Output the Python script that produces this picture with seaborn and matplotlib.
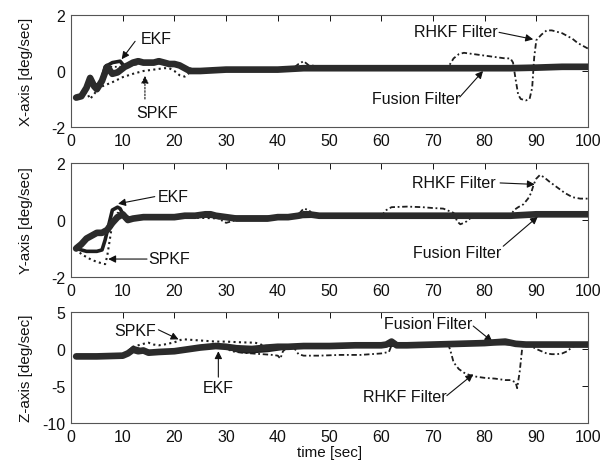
import matplotlib
matplotlib.use("Agg")
import matplotlib.pyplot as plt
import seaborn as sns
import pandas as pd

# ---------------- data ----------------
# X-axis panel
fus_x_t = [1, 2, 3, 3.7, 4.5, 5, 6, 7, 8, 9, 10.4, 11, 12, 13, 14, 15, 16, 17, 18, 19, 20, 21, 22, 23, 25,
           30, 35, 40, 45, 50, 55, 60, 65, 70, 75, 80, 85, 90, 95, 100]
fus_x_v = [-0.95, -0.9, -0.6, -0.25, -0.55, -0.65, -0.35, 0.15, -0.1, -0.05, 0.15, 0.2, 0.3, 0.35, 0.3, 0.3,
           0.3, 0.35, 0.3, 0.25, 0.25, 0.2, 0.1, 0.0, 0.0, 0.05, 0.05, 0.05, 0.1, 0.1, 0.1, 0.1, 0.1, 0.1,
           0.1, 0.1, 0.1, 0.12, 0.15, 0.15]
ekf_x_t = [1, 2, 3, 3.7, 4.5, 5, 6, 6.6, 8, 9.5, 10.4, 12, 14, 16, 18, 20, 21, 22, 23, 25, 30, 35, 40, 45,
           50, 60, 70, 80, 90, 100]
ekf_x_v = [-0.95, -0.85, -0.55, -0.2, -0.5, -0.6, -0.3, 0.15, 0.3, 0.35, 0.15, 0.3, 0.3, 0.3, 0.3, 0.25,
           0.2, 0.1, 0.0, 0.0, 0.05, 0.05, 0.05, 0.1, 0.1, 0.1, 0.1, 0.1, 0.12, 0.15]
spkf_x_t = [1, 2, 3, 3.7, 5, 6, 8, 10, 12, 14, 16, 18, 19, 20, 21, 22, 23, 25, 30, 40, 50, 60, 70, 80, 90, 100]
spkf_x_v = [-1.0, -0.9, -0.75, -1.0, -0.7, -0.55, -0.4, -0.22, -0.1, 0.0, 0.05, 0.1, 0.1, 0.0, -0.15,
            -0.2, -0.05, 0.0, 0.05, 0.05, 0.1, 0.1, 0.1, 0.1, 0.12, 0.15]
rhkf_x_t = [1, 2, 3, 3.7, 4.5, 5, 6, 7, 10, 15, 20, 25, 30, 35, 40, 43, 44, 45, 46, 50, 55, 60, 65, 70, 73,
            74, 75, 76, 78, 80, 82, 84, 85, 85.5, 86, 86.5, 87, 88, 88.7, 89.2, 89.6, 90, 91, 92, 93, 94,
            95, 96, 97, 98, 99, 100]
rhkf_x_v = [-0.95, -0.9, -0.6, -0.25, -0.55, -0.65, -0.35, 0.15, 0.15, 0.3, 0.25, 0.0, 0.05, 0.05, 0.05,
            0.1, 0.25, 0.35, 0.2, 0.15, 0.15, 0.1, 0.1, 0.1, 0.15, 0.45, 0.6, 0.65, 0.6, 0.55, 0.5, 0.45,
            0.45, 0.3, -0.3, -0.85, -1.0, -1.05, -1.0, -0.6, 0.5, 1.1, 1.3, 1.45, 1.45, 1.4, 1.35, 1.25,
            1.15, 1.0, 0.9, 0.8]

# Y-axis panel
fus_y_t = [1, 2, 3, 4, 5, 6, 7, 8, 9, 10, 11, 12, 14, 16, 18, 20, 22, 24, 26, 27, 28, 30, 32, 35, 38, 40,
           42, 44, 45, 46, 48, 50, 55, 60, 65, 70, 75, 80, 85, 90, 95, 100]
fus_y_v = [-1.0, -0.85, -0.65, -0.55, -0.45, -0.45, -0.35, -0.1, 0.1, 0.2, 0.0, 0.05, 0.1, 0.1, 0.1, 0.1,
           0.15, 0.15, 0.2, 0.2, 0.15, 0.1, 0.05, 0.05, 0.05, 0.1, 0.1, 0.15, 0.2, 0.2, 0.15, 0.15, 0.15,
           0.15, 0.15, 0.15, 0.15, 0.15, 0.15, 0.2, 0.2, 0.2]
ekf_y_t = [1, 2, 3, 4, 5, 6, 6.6, 7, 8, 9, 9.5, 10.5, 12, 16, 20, 25, 30, 40, 50, 60, 70, 80, 90, 100]
ekf_y_v = [-1.0, -1.05, -1.1, -1.1, -1.1, -1.05, -0.7, -0.4, 0.35, 0.45, 0.4, 0.05, 0.05, 0.1, 0.1,
           0.15, 0.1, 0.1, 0.15, 0.15, 0.15, 0.15, 0.2, 0.2]
spkf_y_t = [1, 2, 2.7, 4, 5.2, 6.6, 7, 7.5, 8, 9, 10, 11, 12, 16, 20, 30, 40, 50, 60, 70, 80, 90, 100]
spkf_y_v = [-1.0, -1.2, -1.27, -1.4, -1.48, -1.55, -1.27, -0.7, -0.1, 0.25, 0.2, 0.05, 0.05, 0.1, 0.1,
            0.05, 0.1, 0.15, 0.15, 0.15, 0.15, 0.2, 0.2]
rhkf_y_t = [1, 2, 3, 4, 5, 6, 7, 8, 9, 10, 12, 16, 20, 24, 28, 30, 32, 35, 38, 40, 42, 44, 45, 46, 47, 50,
            55, 59, 60, 60.5, 61, 62, 65, 68, 70, 72, 74, 74.7, 75.3, 76, 76.5, 77.5, 80, 85, 85.7, 86.5,
            87.5, 88.4, 89, 89.5, 90, 90.7, 91.5, 92.5, 94, 95.5, 97, 98.5, 100]
rhkf_y_v = [-1.0, -0.85, -0.65, -0.55, -0.45, -0.45, -0.35, -0.1, 0.1, 0.2, 0.05, 0.1, 0.1, 0.15, 0.1,
            -0.1, 0.0, 0.05, 0.0, 0.05, 0.1, 0.2, 0.4, 0.35, 0.15, 0.15, 0.15, 0.1, 0.05, 0.25, 0.35,
            0.45, 0.47, 0.45, 0.42, 0.4, 0.25, -0.05, -0.15, -0.1, -0.05, 0.1, 0.15, 0.15, 0.35, 0.45,
            0.55, 0.75, 0.95, 1.25, 1.45, 1.58, 1.5, 1.35, 1.15, 0.95, 0.8, 0.75, 0.75]

# Z-axis panel
fus_z_t = [1, 5, 10, 11, 12, 13, 14, 15, 17, 20, 22, 25, 28, 30, 32, 35, 38, 40, 42, 45, 50, 55, 60, 61,
           62, 63, 65, 70, 75, 80, 84, 86, 88, 90, 95, 100]
fus_z_v = [-1.0, -1.0, -0.9, -0.6, -0.1, -0.3, -0.2, -0.5, -0.4, -0.3, -0.1, 0.2, 0.4, 0.3, 0.1, 0.0, 0.2,
           0.3, 0.3, 0.4, 0.4, 0.5, 0.5, 0.6, 1.0, 0.5, 0.5, 0.6, 0.7, 0.8, 1.0, 0.7, 0.6, 0.6, 0.6, 0.6]
ekf_z_t = [1, 5, 10, 11, 12, 13, 14, 16, 18, 20, 22, 25, 28, 30, 32, 34, 36, 38, 40, 42, 45, 50, 60, 70,
           80, 90, 100]
ekf_z_v = [-1.0, -1.0, -0.9, -0.5, 0.2, 0.0, -0.3, -0.4, -0.3, -0.2, 0.0, 0.2, 0.4, 0.2, -0.2, -0.4,
           -0.3, -0.2, 0.0, 0.2, 0.3, 0.4, 0.5, 0.6, 0.8, 0.6, 0.6]
spkf_z_t = [1, 5, 10, 11, 12, 13, 14, 15, 16, 17, 18, 20, 21.5, 22, 24, 26, 28, 30, 33, 35.6, 36.5, 37,
            38, 40, 45, 50, 60, 70, 80, 90, 100]
spkf_z_v = [-1.0, -1.0, -0.9, -0.4, 0.3, 0.5, 0.7, 0.85, 0.6, 0.5, 0.6, 0.9, 1.3, 1.3, 1.2, 1.1, 1.0, 1.0,
            0.9, 0.85, 0.7, 0.5, 0.4, 0.3, 0.4, 0.4, 0.5, 0.6, 0.8, 0.6, 0.6]
rhkf_z_t = [1, 5, 10, 12, 14, 16, 18, 20, 25, 28, 30, 31, 33, 35, 37, 39, 40, 40.5, 41, 42, 43, 43.5, 44,
            45, 48, 52, 56, 60, 61.5, 62, 65, 70, 73, 73.5, 74, 75, 76, 77, 78, 80, 82, 84, 85, 86, 86.3,
            86.8, 87.3, 88, 89, 90, 91, 92, 93, 94, 95, 96, 97, 98, 100]
rhkf_z_v = [-1.0, -1.0, -0.9, -0.2, -0.3, -0.4, -0.3, -0.2, 0.2, 0.4, 0.2, -0.3, -0.5, -0.6, -0.7, -0.8,
            -0.9, -1.3, -0.3, 0.3, 0.3, -0.2, -0.7, -0.9, -0.9, -0.8, -0.8, -0.6, -0.4, 0.5, 0.5, 0.6,
            0.6, -0.5, -1.8, -2.7, -3.2, -3.5, -3.7, -3.9, -4.0, -4.2, -4.2, -4.5, -5.3, -3.0, 0.3, 0.6,
            0.4, 0.0, -0.3, -0.6, -0.7, -0.7, -0.6, -0.3, 0.3, 0.5, 0.6]

ylabels = ["X-axis [deg/sec]", "Y-axis [deg/sec]", "Z-axis [deg/sec]"]
xlabel = "time [sec]"
xticks = [0, 10, 20, 30, 40, 50, 60, 70, 80, 90, 100]
yticks_list = [[-2, 0, 2], [-2, 0, 2], [-10, -5, 0, 5]]
ylims = [(-2, 2), (-2, 2), (-10, 5)]

# ---------------- style ----------------
sns.set_theme(style="white")
plt.rcParams["font.family"] = ["Liberation Sans", "DejaVu Sans"]
plt.rcParams["axes.unicode_minus"] = False

fig = plt.figure(figsize=(6.11, 4.64), dpi=100)
left, width = 71 / 611, 517 / 611
boxes = [(128, 112), (278, 114), (424, 111)]
axes = [fig.add_axes([left, 1 - b / 464, width, h / 464]) for b, h in boxes]

panels = [
    (fus_x_t, fus_x_v, ekf_x_t, ekf_x_v, spkf_x_t, spkf_x_v, rhkf_x_t, rhkf_x_v),
    (fus_y_t, fus_y_v, ekf_y_t, ekf_y_v, spkf_y_t, spkf_y_v, rhkf_y_t, rhkf_y_v),
    (fus_z_t, fus_z_v, ekf_z_t, ekf_z_v, spkf_z_t, spkf_z_v, rhkf_z_t, rhkf_z_v),
]

ink = "#1e1e1e"
for i, (ax, p) in enumerate(zip(axes, panels)):
    ft, fv, et, ev, st, sv, rt, rv = p
    sns.lineplot(x=rt, y=rv, ax=ax, color=ink, lw=1.3, linestyle=(0, (3, 1.5, 1, 1.5)),
                 estimator=None, sort=False, zorder=3)
    sns.lineplot(x=st, y=sv, ax=ax, color=ink, lw=1.5, linestyle=(0, (1, 1.6)),
                 estimator=None, sort=False, zorder=3)
    sns.lineplot(x=et, y=ev, ax=ax, color=ink, lw=2.6, estimator=None, sort=False, zorder=4)
    sns.lineplot(x=ft, y=fv, ax=ax, color="#2b2b2b", lw=4.8, estimator=None, sort=False, zorder=5)

    ax.set_xlim(0, 100)
    ax.set_ylim(*ylims[i])
    ax.set_xticks(xticks)
    ax.set_yticks(yticks_list[i])
    ax.tick_params(direction="in", length=4, width=0.7, top=True, right=True,
                   labelsize=11.5, pad=4, colors="#111111")
    for s in ax.spines.values():
        s.set_visible(True)
        s.set_color("#555555")
        s.set_linewidth(0.8)
    ax.set_ylabel(ylabels[i], fontsize=11, color="#111111")
    ax.yaxis.set_label_coords(-0.074, 0.5)
    ax.set_xlabel("")

axes[2].set_xlabel(xlabel, fontsize=11, color="#111111", labelpad=1)

arrow = dict(arrowstyle="-|>", color="#111111", lw=0.8, mutation_scale=11, shrinkA=0, shrinkB=0)
dashed_arrow = dict(arrow, linestyle=(0, (1.5, 1.5)))
tkw = dict(fontsize=11.5, ha="center", va="center", color="#111111")

# top
a = axes[0]
a.text(16.4, 1.17, "EKF", **tkw)
a.annotate("", xy=(9.8, 0.42), xytext=(12.4, 1.06), arrowprops=arrow)
a.text(16.6, -1.49, "SPKF", **tkw)
a.annotate("", xy=(14.3, -0.17), xytext=(14.3, -1.0), arrowprops=dashed_arrow)
a.text(74.5, 1.42, "RHKF Filter", **tkw)
a.annotate("", xy=(89.4, 1.13), xytext=(82.8, 1.38), arrowprops=arrow)
a.text(66.7, -0.99, "Fusion Filter", **tkw)
a.annotate("", xy=(79.7, 0.0), xytext=(75.2, -0.93), arrowprops=arrow)

# middle
a = axes[1]
a.text(19.7, 0.82, "EKF", **tkw)
a.annotate("", xy=(9.1, 0.57), xytext=(16.2, 0.82), arrowprops=arrow)
a.text(19.0, -1.34, "SPKF", **tkw)
a.annotate("", xy=(7.2, -1.37), xytext=(14.7, -1.37), arrowprops=arrow)
a.text(74.0, 1.3, "RHKF Filter", **tkw)
a.annotate("", xy=(89.7, 1.25), xytext=(83.0, 1.3), arrowprops=arrow)
a.text(74.7, -1.14, "Fusion Filter", **tkw)
a.annotate("", xy=(90.3, 0.12), xytext=(83.6, -0.92), arrowprops=arrow)

# bottom
a = axes[2]
a.text(12.4, 2.5, "SPKF", **tkw)
a.annotate("", xy=(20.8, 1.3), xytext=(16.9, 2.6), arrowprops=arrow)
a.text(28.4, -5.2, "EKF", **tkw)
a.annotate("", xy=(28.5, -0.3), xytext=(28.5, -3.8), arrowprops=arrow)
a.text(69.0, 3.5, "Fusion Filter", **tkw)
a.annotate("", xy=(81.5, 1.0), xytext=(77.8, 3.1), arrowprops=arrow)
a.text(64.6, -6.4, "RHKF Filter", **tkw)
a.annotate("", xy=(77.8, -3.4), xytext=(72.7, -6.3), arrowprops=arrow)

fig.savefig("out.png", dpi=100, facecolor="white")
